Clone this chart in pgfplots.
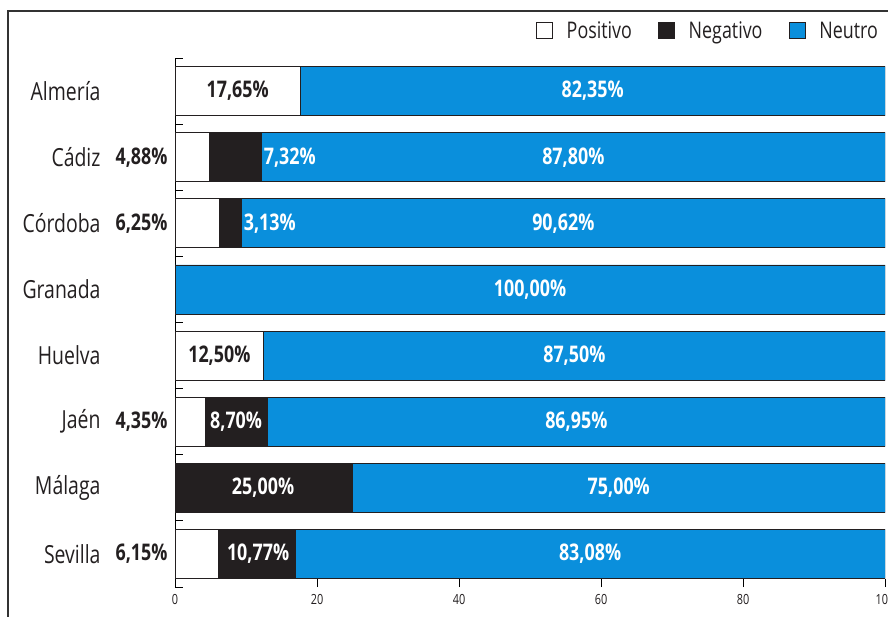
\documentclass[border=0pt]{standalone}
\usepackage{fontspec}
\setmainfont{Open Sans}[FakeStretch=0.78]
\usepackage{pgfplots}
\usepackage{pgfplotstable}
\pgfplotsset{compat=1.18}
\definecolor{neu}{HTML}{0A8FDC}
\definecolor{negc}{HTML}{231F20}
\pgfplotstableread{
y pos neg neu
0 17.65 0 82.35
1 4.88 7.32 87.80
2 6.25 3.13 90.62
3 0 0 100
4 12.50 0 87.50
5 4.35 8.70 86.95
6 0 25.00 75.00
7 6.15 10.77 83.08
}\datatab
\pgfplotstableread{
x y lab
8.825 0 17,65
6.25 4 12,50
}\labdarkc
\pgfplotstableread{
x y lab
0 1 4,88
0 2 6,25
0 5 4,35
0 7 6,15
}\labdarke
\pgfplotstableread{
x y lab
12.2 1 7,32
9.38 2 3,13
}\labwhitew
\pgfplotstableread{
x y lab
8.6 5 8,70
12.4 6 25,00
11.7 7 10,77
58.825 0 82,35
56.1 1 87,80
54.69 2 90,62
50 3 100,00
56.25 4 87,50
56.525 5 86,95
62.5 6 75,00
58.46 7 83,08
}\labwhitec
\newcommand\lab{\bfseries\fontsize{23}{23}\selectfont}
\pgfplotsset{geom/.style={
  at={(175bp,30bp)}, anchor=south west,
  scale only axis, width=710bp, height=529bp,
  xmin=0, xmax=100, ymin=-0.5, ymax=7.5, y dir=reverse},
  labplot/.style={only marks, mark=*, mark size=0pt,
  mark options={draw opacity=0},
  nodes near coords={\pgfplotspointmeta\%}, point meta=explicit symbolic}}
\begin{document}
\begin{tikzpicture}
\useasboundingbox (0,0) rectangle (888bp,617bp);
\draw[line width=2bp, color=black!80] (8bp,0) |- (888bp,606bp);
\begin{axis}[
  geom,
  xbar stacked, bar width=49bp,
  axis lines*=left,
  x axis line style={draw=none},
  y axis line style={line width=0.8bp},
  tick align=inside, major tick length=8bp,
  every tick/.style={black, line width=0.8bp},
  xtick={0,20,40,60,80,100},
  ytick={-0.5,0.5,...,7.5}, yticklabels={},
  extra y ticks={0,1,2,3,4,5,6,7},
  extra y tick labels={Almería,Cádiz,Córdoba,Granada,Huelva,Jaén,Málaga,Sevilla},
  extra y tick style={major tick length=0pt, tick label style={xshift=-71bp}},
  y tick label style={font=\fontsize{25}{25}\selectfont, text=negc},
  x tick label style={font=\fontsize{14}{14}\selectfont, text=negc, yshift=-4bp},
  /pgf/number format/assume math mode=true,
  legend style={at={(1,1)}, anchor=south east, xshift=-2bp, yshift=14bp, draw=none, fill=none,
    font=\fontsize{23}{23}\selectfont, text=negc, legend columns=3,
    /tikz/every odd column/.append style={column sep=12bp},
    /tikz/every even column/.append style={column sep=24bp}},
  legend image code/.code={\draw[#1, line width=0.8bp] (0bp,-8bp) rectangle (16bp,8bp);},
]
\addplot[draw=negc, fill=white, line width=0.8bp] table[x=pos, y=y] {\datatab};
\addplot[draw=negc, fill=negc, line width=0.8bp] table[x=neg, y=y] {\datatab};
\addplot[draw=negc, fill=neu, line width=0.8bp] table[x=neu, y=y] {\datatab};
\legend{Positivo,Negativo,Neutro}
\end{axis}
\begin{axis}[geom, hide axis, clip=false]
\addplot[labplot, nodes near coords style={font=\lab, text=negc, anchor=center}]
  table[x=x, y=y, meta=lab] {\labdarkc};
\addplot[labplot, nodes near coords style={font=\lab, text=negc, anchor=east, xshift=-4bp}]
  table[x=x, y=y, meta=lab] {\labdarke};
\addplot[labplot, nodes near coords style={font=\lab, text=white, anchor=west, inner sep=1bp, xshift=1bp}]
  table[x=x, y=y, meta=lab] {\labwhitew};
\addplot[labplot, nodes near coords style={font=\lab, text=white, anchor=center}]
  table[x=x, y=y, meta=lab] {\labwhitec};
\end{axis}
\end{tikzpicture}
\end{document}
